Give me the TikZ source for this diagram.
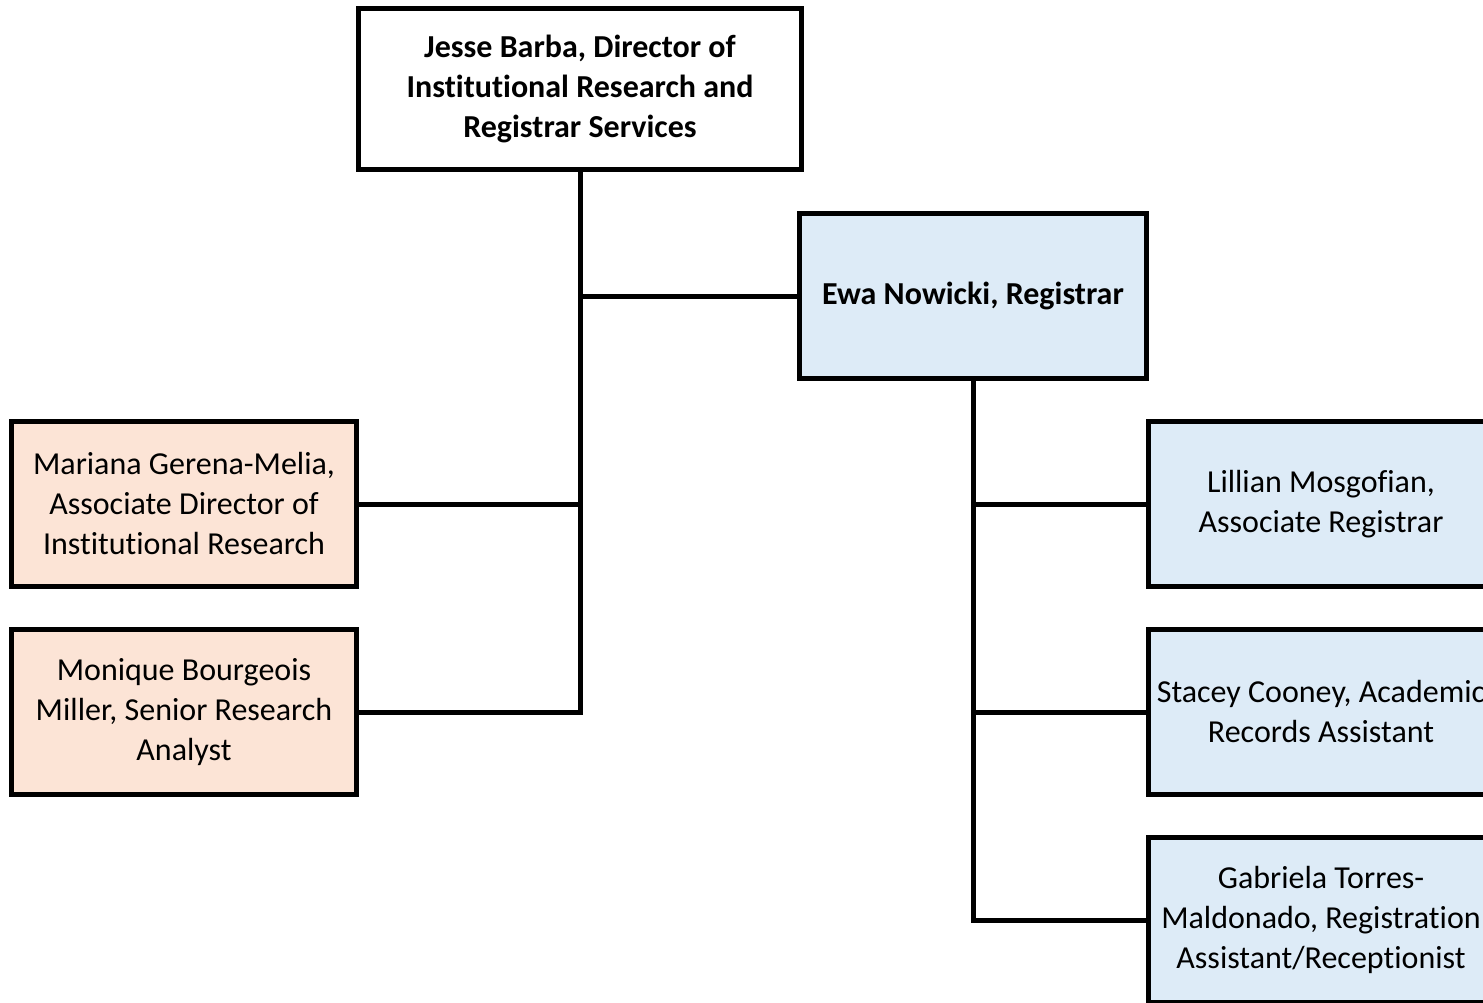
\documentclass[tikz,border=0pt]{standalone}
\usepackage{fontspec}
\setmainfont[Ligatures=NoCommon]{Carlito}
\definecolor{peach}{HTML}{FCE4D6}
\definecolor{lblue}{HTML}{DDEBF7}
\begin{document}
\begin{tikzpicture}[x=1pt,y=-1pt,
  box/.style={draw=black, line width=5pt, align=center, inner sep=0pt,
    font=\fontsize{32}{40}\selectfont},
  bbox/.style={box, font=\fontsize{32}{40}\selectfont\bfseries},
  small/.style={box, minimum width=345pt, minimum height=165pt},
  conn/.style={draw=black, line width=5pt}]
\useasboundingbox (0,0) rectangle (1483,1003);
\node[bbox, fill=white, minimum width=443pt, minimum height=161pt] (top) at (580,89)
  {Jesse Barba, Director of\\Institutional Research and\\Registrar Services};
\node[bbox, fill=lblue, minimum width=347pt, minimum height=165pt] (ewa) at (973,296)
  {Ewa Nowicki, Registrar};
\node[small, fill=peach] (m1) at (184,504) {Mariana Gerena-Melia,\\Associate Director of\\Institutional Research};
\node[small, fill=peach] (m2) at (184,712) {Monique Bourgeois\\Miller, Senior Research\\Analyst};
\node[small, fill=lblue] (r1) at (1321,504) {Lillian Mosgofian,\\Associate Registrar};
\node[small, fill=lblue] (r2) at (1321,712) {Stacey Cooney, Academic\\Records Assistant};
\node[small, fill=lblue] (r3) at (1321,920) {Gabriela Torres-\\Maldonado, Registration\\Assistant/Receptionist};
\draw[conn] (top.south) -- (top.south |- m2.east) -- (m2.east);
\draw[conn] (top.south |- ewa.west) -- (ewa.west);
\draw[conn] (top.south |- m1.east) -- (m1.east);
\draw[conn] (ewa.south) -- (ewa.south |- r3.west) -- (r3.west);
\draw[conn] (ewa.south |- r1.west) -- (r1.west);
\draw[conn] (ewa.south |- r2.west) -- (r2.west);
\end{tikzpicture}
\end{document}
